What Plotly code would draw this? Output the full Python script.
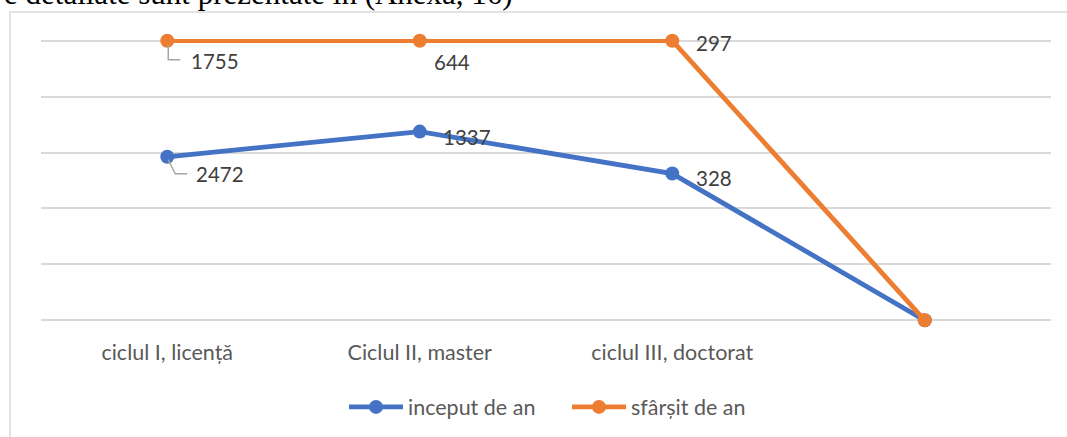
import plotly.graph_objects as go

# ---- data ----
categories = ["ciclul I, licență", "Ciclul II, master", "ciclul III, doctorat", ""]
inceput_de_an = [2472, 1337, 328, None]
sfarsit_de_an = [1755, 644, 297, None]
series_names = ["inceput de an", "sfârșit de an"]
header_text = "e detaliate sunt prezentate în (Anexa, 16)"

# ---- 100% stacked line (as in the original chart) ----
xs = list(range(len(categories)))
tot = [(a or 0) + (b or 0) for a, b in zip(inceput_de_an, sfarsit_de_an)]
pct_a = [((a or 0) / t) if t else 0 for a, t in zip(inceput_de_an, tot)]
pct_b = [(((a or 0) + (b or 0)) / t) if t else 0 for a, b, t in zip(inceput_de_an, sfarsit_de_an, tot)]

BLUE = "#4472C4"
ORANGE = "#ED7D31"
FONT = "Lato"

fig = go.Figure()
fig.add_trace(go.Scatter(x=xs, y=pct_a, mode="lines+markers", name=series_names[0],
                         line=dict(color=BLUE, width=4.8),
                         marker=dict(color=BLUE, size=14), cliponaxis=False))
fig.add_trace(go.Scatter(x=xs, y=pct_b, mode="lines+markers", name=series_names[1],
                         line=dict(color=ORANGE, width=4.8),
                         marker=dict(color=ORANGE, size=14), cliponaxis=False))

# data labels (offsets in px: label left edge / vertical shift)
label_offsets_a = [(27, -17), (21, -5), (22, -4)]
label_offsets_b = [(22, -20), (12, -21), (22, -2)]
for series, pcts, offs in ((inceput_de_an, pct_a, label_offsets_a),
                           (sfarsit_de_an, pct_b, label_offsets_b)):
    for i, v in enumerate(series):
        if v is None:
            continue
        dx, dy = offs[i]
        fig.add_annotation(x=xs[i], y=pcts[i], text=str(v), showarrow=False,
                           xanchor="left", yanchor="middle", xshift=dx, yshift=dy,
                           font=dict(family=FONT, size=20.5, color="#404040"))

# leader lines for the first category labels
fig.add_shape(type="path", xref="x", yref="y", xsizemode="pixel", ysizemode="pixel",
              xanchor=xs[0], yanchor=pct_b[0], path="M 1 -4 L 1 -19 L 13 -19",
              line=dict(color="#A6A6A6", width=1.5))
fig.add_shape(type="path", xref="x", yref="y", xsizemode="pixel", ysizemode="pixel",
              xanchor=xs[0], yanchor=pct_a[0], path="M 1 -3 L 8 -17 L 20 -17",
              line=dict(color="#A6A6A6", width=1.5))

# chart frame (container border) and cut-off document text above
fig.add_shape(type="path", xref="paper", yref="paper",
              path="M -0.0307 -0.45 L -0.0307 1.095 L 1.02 1.095",
              line=dict(color="#D9D9D9", width=1.5))
fig.add_annotation(xref="paper", yref="paper", x=-0.039, y=1.161, xanchor="left",
                   yanchor="middle", text=header_text, showarrow=False,
                   font=dict(family="Liberation Serif", size=31, color="#000000"))

fig.update_layout(
    width=1067, height=437,
    margin=dict(l=41, r=16, t=39, b=115, autoexpand=False),
    paper_bgcolor="white", plot_bgcolor="white",
    showlegend=True,
    legend=dict(orientation="h", x=0.300, xanchor="left", y=-0.3, yanchor="middle",
                font=dict(family=FONT, size=21.5, color="#595959"),
                entrywidth=154, entrywidthmode="pixels", itemwidth=54),
    font=dict(family=FONT, color="#595959"),
)
fig.update_xaxes(range=[-0.5, 3.5], tickvals=xs[:3], ticktext=categories[:3],
                 showgrid=False, zeroline=False, showline=False, automargin=False,
                 tickfont=dict(family=FONT, size=21.5, color="#595959"),
                 ticklabelstandoff=15)
fig.update_yaxes(range=[-0.006, 1.006], dtick=0.2, showticklabels=False, automargin=False,
                 showgrid=True, gridcolor="#D9D9D9", gridwidth=1.5, zeroline=False)

fig.write_html("out.html", config={"displayModeBar": False},
               post_script="document.body.style.margin='0';")
